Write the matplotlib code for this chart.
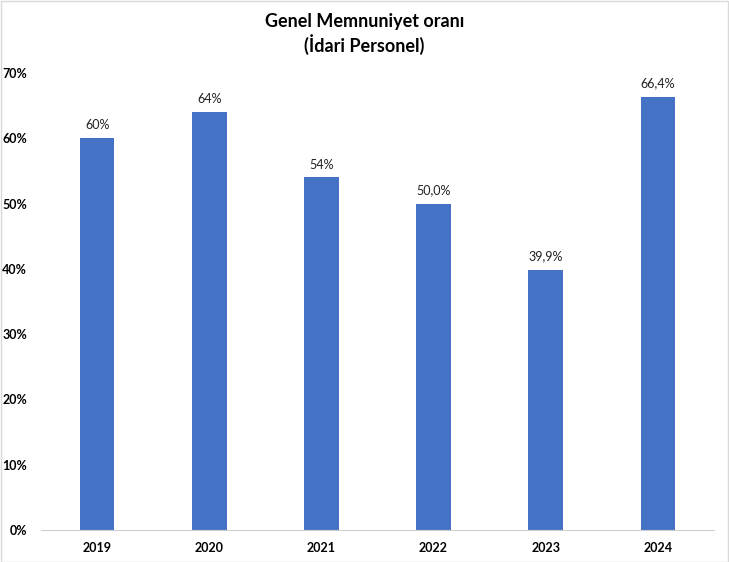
import matplotlib
matplotlib.use("Agg")
import matplotlib.pyplot as plt
from matplotlib.ticker import PercentFormatter, MultipleLocator
from matplotlib.patches import Rectangle

years = ["2019", "2020", "2021", "2022", "2023", "2024"]
values = [60, 64, 54, 50.0, 39.9, 66.4]
labels = ["60%", "64%", "54%", "50,0%", "39,9%", "66,4%"]

plt.rcParams['font.family'] = ['Lato', 'DejaVu Sans']

fig = plt.figure(figsize=(7.29, 5.62), dpi=100)
ax = fig.add_axes([41/729, 1 - 530/562, (714-41)/729, (530-73)/562])

x = range(len(years))
bars = ax.bar(x, values, width=0.31, color="#4472C4")
for xi, v, lab in zip(x, values, labels):
    ax.annotate(lab, (xi, v), xytext=(0, 5), textcoords="offset points",
                ha="center", va="bottom", fontsize=9, color="#222222")

ax.set_xlim(-0.5, len(years) - 0.5)
ax.set_ylim(0, 70)
ax.yaxis.set_major_locator(MultipleLocator(10))
ax.yaxis.set_major_formatter(PercentFormatter(decimals=0))
ax.set_xticks(list(x))
ax.set_xticklabels(years)
for lab in ax.get_xticklabels() + ax.get_yticklabels():
    lab.set_fontweight("bold")
    lab.set_fontsize(9)
ax.tick_params(axis="both", length=0, pad=9)
ax.tick_params(axis="y", pad=10)
for s in ["top", "right", "left"]:
    ax.spines[s].set_visible(False)
ax.spines["bottom"].set_color("#d0d0d0")

fig.text(0.5, 1 - 22/562, "Genel Memnuniyet oranı", ha="center", va="center",
         fontsize=13, fontweight="bold")
fig.text(0.5, 1 - 45/562, "(İdari Personel)", ha="center", va="center",
         fontsize=13, fontweight="bold")

fig.patches.append(Rectangle((0.5/729, 0.5/562), 1 - 1.5/729, 1 - 1.5/562,
                             transform=fig.transFigure, fill=False,
                             edgecolor="#d9d9d9", linewidth=1))

fig.savefig("out.png", dpi=100)
